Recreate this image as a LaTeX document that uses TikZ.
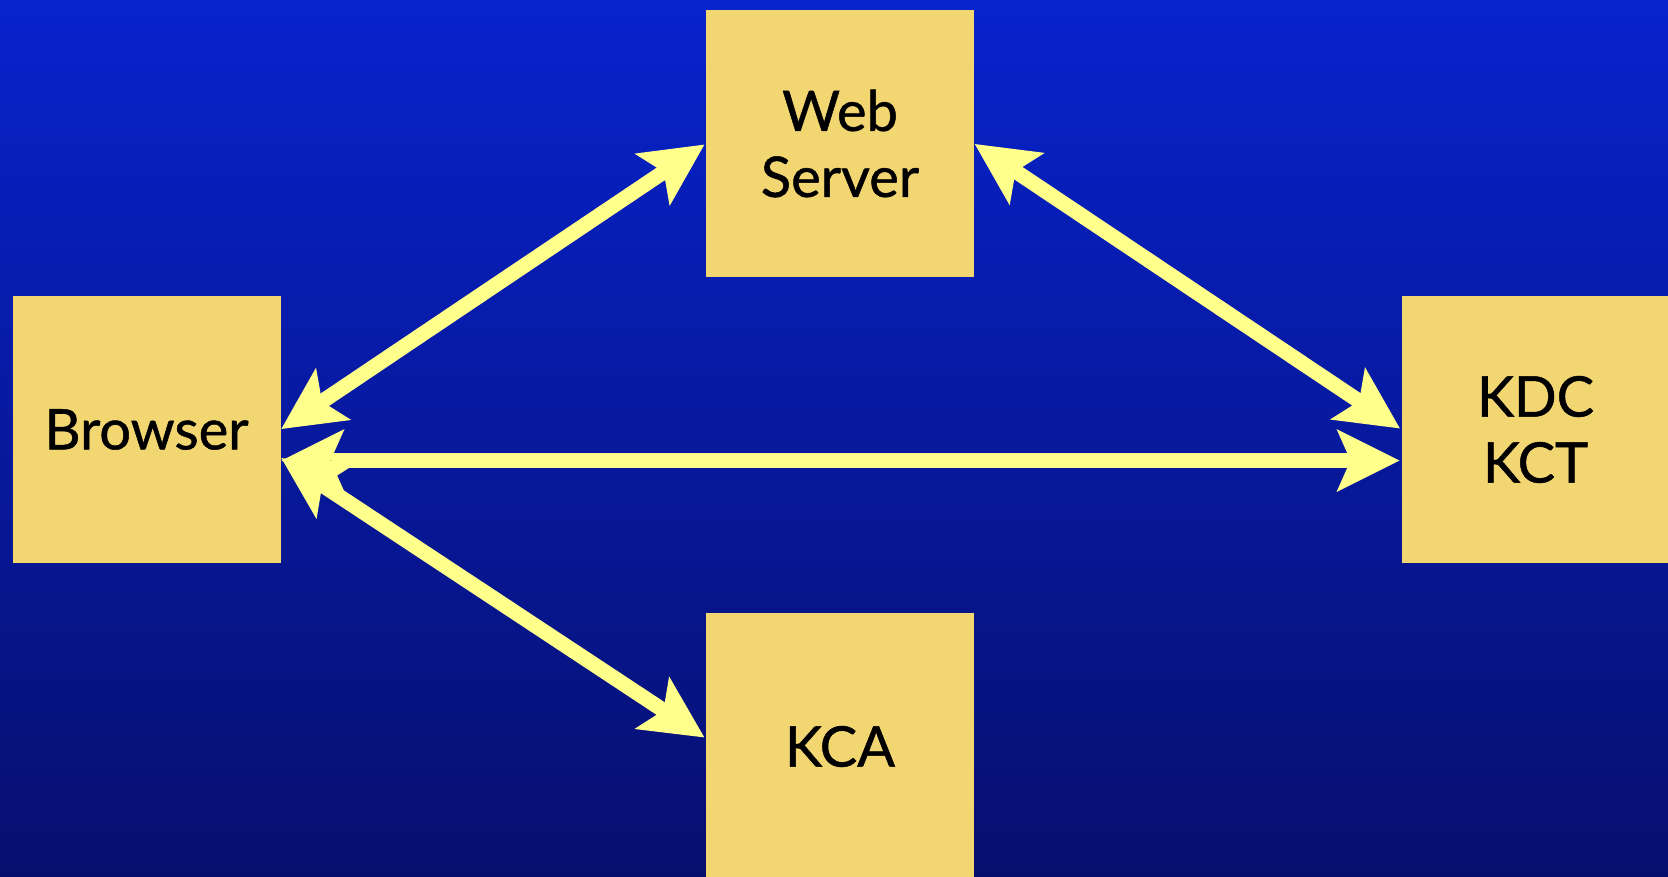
\documentclass[tikz,border=0pt]{standalone}
\usepackage{fontspec}
\setmainfont{Lato}
\newfontfamily\boxfont[FakeBold=0.9]{Lato}
\usetikzlibrary{arrows.meta}

\definecolor{bgtop}{RGB}{7,35,205}
\definecolor{bgbottom}{RGB}{7,15,110}
\definecolor{boxfill}{RGB}{242,214,114}
\definecolor{linkcol}{RGB}{255,255,140}

\tikzset{
  box/.style={fill=boxfill, minimum width=268pt, minimum height=267pt,
    inner sep=0pt, outer sep=0pt, align=center, text=black,
    font=\boxfont\fontsize{56}{66}\selectfont},
  link/.style={draw=linkcol, line width=15pt,
    {Stealth[length=63pt 0, width=63pt 0, inset=14pt 0, line width=0pt, fill=linkcol]}-{Stealth[length=63pt 0, width=63pt 0, inset=14pt 0, line width=0pt, fill=linkcol]},
    shorten <=1pt, shorten >=2pt}
}

\begin{document}
\begin{tikzpicture}[x=1pt,y=-1pt]
  \useasboundingbox (0,0) rectangle (1668,876);
  \clip (0,0) rectangle (1668,876);
  \shade[top color=bgtop, bottom color=bgbottom] (0,0) rectangle (1668,876);

  % the four parties
  \node[box] (web)     at (840,143.5)    {Web\\Server};
  \node[box] (browser) at (146.5,429.5)  {Browser};
  \node[box] (kdc)     at (1535.5,429.5) {KDC\\KCT};
  \node[box] (kca)     at (840,746.5)    {KCA};

  % two-way exchanges
  \draw[link] (browser.east) -- (web.west);
  \draw[link] (web.east) -- (kdc.west);
  \draw[link] ([yshift=-31pt]browser.east) -- ([yshift=-31pt]kdc.west);
  \draw[link] ([yshift=-28pt]browser.east) -- ([yshift=8pt]kca.west);
\end{tikzpicture}
\end{document}
